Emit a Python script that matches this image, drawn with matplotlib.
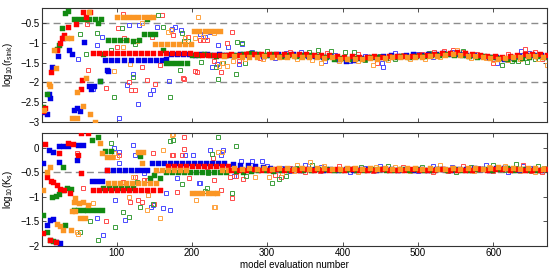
import matplotlib
matplotlib.use("Agg")
import matplotlib.pyplot as plt

# ---------------------------------------------------------------
# data
# top panel: log10(r_sink), bottom panel: log10(K_s)
# filled squares = current chain state, open squares = proposals
# ---------------------------------------------------------------

# top panel, filled, early part of the run
top_blue_x = [3, 8, 10, 12, 14, 22, 29, 37, 41, 43, 47, 52, 57, 63, 66, 70, 78, 87, 89,
              84, 93, 101, 110, 119, 128, 136, 145, 153, 160, 165,
              172, 180, 188, 196, 204, 212, 220, 228, 236, 244]
top_blue_y = [-2.75, -2.8, -2.3, -2.4, -1.62, -1.32, -0.87, -1.17, -1.27, -2.7, -2.65, -2.72,
              -0.98, -2.1, -2.16, -2.1, -1.97, -1.7, -1.72,
              -1.43, -1.43, -1.43, -1.43, -1.43, -1.43, -1.43, -1.43, -1.43, -1.43, -1.42,
              -1.28, -1.27, -1.29, -1.28, -1.30, -1.29, -1.28, -1.30, -1.29, -1.30]

top_red_x = [3, 5, 13, 21, 25, 27, 30, 35, 46, 53, 54, 55, 60, 65,
             69, 77, 85, 93, 101, 109, 117, 125, 133, 141, 149, 157, 165, 173, 181, 189, 197, 205,
             213, 221, 229, 237, 245]
top_red_y = [-2.72, -2.65, -1.74, -1.19, -1.0, -0.88, -0.8, -0.6, -0.53, -2.16, -1.95, -0.21, -0.35, -0.21,
             -1.26, -1.26, -1.26, -1.26, -1.26, -1.26, -1.26, -1.26, -1.26, -1.26, -1.26, -1.26, -1.26,
             -1.26, -1.26, -1.26, -1.26, -1.27,
             -1.30, -1.30, -1.31, -1.30, -1.30]

top_green_x = [2, 8, 21, 24, 27, 32, 36, 43, 50, 57, 64, 71, 79, 76, 78, 82, 140, 162,
               88, 96, 105, 113, 122, 130, 136, 144, 151,
               165, 172, 179, 186, 193, 200, 208, 216, 224, 232, 240, 248]
top_green_y = [-2.63, -2.3, -1.15, -1.05, -0.62, -0.23, -0.19, -0.38, -0.38, -0.38, -0.38, -0.38,
               -0.38, -0.5, -1.96, -1.28, -0.38, -1.19,
               -0.93, -0.93, -0.93, -0.93, -0.94, -0.93, -0.77, -0.77, -0.77,
               -1.5, -1.5, -1.5, -1.5, -1.5, -1.30, -1.31, -1.29, -1.30, -1.32, -1.30, -1.31]

top_orange_x = [4, 10, 12, 17, 19, 34, 40, 41, 48, 48, 56, 59, 63, 65, 72,
                101, 108, 115, 122, 129, 136, 143, 148,
                151, 159, 167, 175, 183, 191, 199,
                203, 210, 217, 224, 231, 237, 243]
top_orange_y = [-2.7, -2.05, -2.1, -1.17, -1.65, -0.87, -0.88, -2.9, -2.9, -2.25, -2.6, -1.9, -0.2,
                -2.8, -3.0,
                -0.34, -0.34, -0.34, -0.34, -0.34, -0.34, -0.34, -0.34,
                -1.03, -1.03, -1.03, -1.03, -1.03, -1.03, -1.03,
                -0.7, -0.7, -0.7, -0.7, -0.7, -0.7, -1.33]

# top panel, open squares
top_blue_open_x = [49, 69, 80, 74, 103, 114, 116, 129, 122, 145, 149, 154, 169, 173, 185, 211,
                   224, 227, 233, 242, 248, 130, 178, 217, 234, 262, 266,
                   280, 310, 345, 377, 410, 452, 454, 500, 545, 605, 637, 660,
                   300, 325, 390, 430, 470, 520, 560, 585, 625, 648]
top_blue_open_y = [-1.42, -2.16, -0.85, -1.06, -2.9, -2.08, -0.55, -2.55, -1.8, -2.3, -2.2, -0.6,
                   -1.97, -0.64, -0.66, -0.76, -0.73, -1.6, -1.53, -1.32, -1.1, -0.55, -0.6,
                   -0.85, -1.06, -1.53, -1.03,
                   -1.22, -1.38, -1.24, -1.46, -1.45, -1.5, -1.61, -1.28, -1.22, -1.5, -1.2, -1.34,
                   -1.3, -1.26, -1.3, -1.33, -1.26, -1.36, -1.28, -1.33, -1.38, -1.25]

top_red_open_x = [61, 62, 86, 102, 109, 110, 100, 119, 125, 117, 134, 140, 160, 151, 175, 189,
                  204, 195, 211, 220, 229, 246, 262, 147, 158, 188, 207, 215, 253, 238,
                  290, 330, 365, 400, 446, 480, 522, 546, 578, 600, 642, 665,
                  275, 310, 345, 380, 420, 460, 505, 535, 560, 620, 655]
top_red_open_y = [-0.53, -1.7, -2.15, -0.63, -0.27, -0.87, -1.1, -2.21, -2.21, -2.0, -1.6, -1.95,
                  -0.3, -2.04, -0.8, -1.93, -1.72, -0.85, -0.93, -0.93, -1.45, -1.0, -1.45, -0.85,
                  -1.55, -1.9, -1.75, -0.93, -0.73, -1.75,
                  -1.38, -1.22, -1.34, -1.38, -1.52, -1.3, -1.24, -1.17, -1.28, -1.52, -1.15, -1.42,
                  -1.25, -1.31, -1.35, -1.26, -1.29, -1.38, -1.27, -1.2, -1.22, -1.28, -1.24]

top_green_open_x = [52, 60, 74, 92, 96, 107, 122, 124, 155, 162, 171, 184, 189, 195, 212, 235,
                    241, 258, 266, 187, 232, 260, 270,
                    300, 340, 368, 385, 403, 430, 470, 515, 560, 612, 625, 633, 655,
                    280, 320, 355, 415, 450, 490, 540, 580, 645, 664]
top_green_open_y = [-0.78, -1.27, -0.75, -1.19, -2.38, -0.63, -1.87, -1.02, -0.3, -0.6, -2.38,
                    -1.7, -0.95, -0.95, -1.49, -1.93, -1.52, -1.79, -1.0, -0.75, -1.6, -0.98, -1.5,
                    -1.2, -1.33, -1.19, -1.2, -1.24, -1.44, -1.4, -1.26, -1.2, -1.55, -1.45, -1.46, -1.4,
                    -1.26, -1.35, -1.22, -1.22, -1.32, -1.36, -1.28, -1.33, -1.48, -1.3]

top_orange_open_x = [96, 109, 114, 127, 118, 134, 168, 172, 191, 208, 204, 215, 229, 240, 246,
                     255, 236,
                     295, 320, 372, 420, 440, 490, 530, 552, 590, 620, 650, 671,
                     270, 340, 360, 395, 460, 510, 570, 600, 635, 660]
top_orange_open_y = [-1.72, -1.1, -0.93, -0.96, -1.53, -0.5, -0.73, -0.67, -0.88, -0.33, -0.88,
                     -0.84, -0.75, -1.5, -1.58, -1.45, -1.58,
                     -1.4, -1.37, -1.52, -1.45, -1.56, -1.4, -1.35, -1.17, -1.38, -1.44, -1.3, -1.55,
                     -1.42, -1.4, -1.44, -1.47, -1.44, -1.42, -1.39, -1.43, -1.42, -1.4]

# bottom panel, filled, early part of the run
bot_blue_x = [3, 8, 10, 12, 15, 16, 19, 23, 24, 25, 29, 36, 48, 49, 56, 68, 74, 81,
              87, 95, 103, 111, 119, 127, 134, 140,
              147, 155, 163, 171, 179, 187, 195, 203, 211, 219, 227, 235, 243]
bot_blue_y = [-0.32, -1.58, -0.05, -1.48, -1.46, -0.09, -1.93, 0.03, -0.29, -1.95, 0.03, 0.03,
              -0.25, 0.05, 0.05, -0.67, -0.67, -0.67,
              -0.45, -0.45, -0.45, -0.45, -0.45, -0.45, -0.45, -0.45,
              -0.32, -0.32, -0.32, -0.32, -0.32, -0.32, -0.32, -0.32, -0.32, -0.32, -0.32, -0.32, -0.32]

bot_red_x = [3, 5, 8, 12, 13, 16, 19, 21, 23, 25, 30, 36, 38, 42, 49, 53, 53, 62, 87,
             69, 77, 85, 93, 101, 109, 117, 125, 133, 141, 149, 157,
             168, 176, 184, 192, 200, 208, 216, 224, 232, 240, 248]
bot_red_y = [-1.74, 0.08, -0.59, -1.89, -0.68, -0.71, -1.92, -0.76, -0.1, -0.84, -0.87, 0.09,
             -0.92, 0.07, -0.15, 0.3, -0.51, 0.3, -0.45,
             -0.86, -0.86, -0.86, -0.86, -0.86, -0.86, -0.86, -0.86, -0.86, -0.86, -0.86, -0.86,
             -0.37, -0.37, -0.37, -0.37, -0.37, -0.37, -0.37, -0.37, -0.37, -0.37, -0.37]

bot_green_x = [3, 8, 12, 16, 14, 19, 24, 29, 34, 40, 29, 32, 67, 75, 85, 92, 131, 145, 150, 158,
               43, 49, 55, 61, 68, 74, 80,
               82, 90, 98, 106, 114, 122,
               165, 173, 181, 189, 197, 205, 213, 221, 229, 237, 245]
bot_green_y = [-1.37, -1.72, -1.88, -1.9, -1.0, -0.98, -0.95, -0.86, -0.83, -0.85, -0.39, -1.58,
               0.15, 0.22, -0.07, -0.07, -0.17, -0.62, -0.55, -0.62,
               -1.27, -1.27, -1.27, -1.27, -1.27, -1.27, -1.27,
               -0.82, -0.82, -0.82, -0.82, -0.82, -0.82,
               -0.49, -0.49, -0.49, -0.49, -0.49, -0.49, -0.49, -0.49, -0.49, -0.49, -0.49]

bot_orange_x = [3, 7, 11, 21, 25, 29, 39, 45, 41, 45, 52, 58, 43, 50, 56, 62, 78, 80, 87, 94,
                128, 135, 134,
                89, 97, 105, 113, 121, 129, 137, 145, 153,
                152, 160, 168, 176, 184, 192, 240, 248,
                200, 207, 214, 221, 228, 233]
bot_orange_y = [-0.86, -0.5, -0.39, -1.56, -1.6, -1.68, -1.68, -1.03, -1.3, -1.3, -1.44, -1.44,
                -1.1, -1.12, -1.1, -1.17, 0.1, -0.1, -0.19, -0.19, -0.09, -0.09, -0.32,
                -0.72, -0.72, -0.72, -0.72, -0.72, -0.72, -0.72, -0.72, -0.72,
                -0.45, -0.46, -0.45, -0.45, -0.46, -0.45, -0.45, -0.46,
                -0.93, -0.93, -0.93, -0.93, -0.93, -0.93]

# bottom panel, open squares
bot_blue_open_x = [74, 82, 96, 103, 98, 103, 111, 122, 125, 120, 142, 149, 161, 166, 224, 211,
                   238, 251, 136, 146, 171, 180, 191, 202, 209, 241, 265, 280, 293, 256,
                   300, 330, 372, 410, 450, 500, 545, 590, 620, 650,
                   320, 350, 390, 430, 475, 520, 565, 605, 640, 665]
bot_blue_open_y = [-1.44, -1.78, 0.0, -0.08, -1.07, -0.32, -1.48, 0.05, -0.15, -0.72, -0.97,
                   -1.17, -1.23, -0.93, -0.05, -0.72, -0.15, -0.39, -0.52, -1.2, -1.27, -0.62,
                   -0.15, -0.15, -0.73, -0.05, -0.27, -0.27, -0.27, -0.58,
                   -0.37, -0.48, -0.4, -0.5, -0.38, -0.47, -0.4, -0.36, -0.5, -0.42,
                   -0.42, -0.35, -0.46, -0.41, -0.44, -0.38, -0.46, -0.42, -0.37, -0.44]

bot_red_open_x = [48, 56, 86, 103, 109, 118, 129, 125, 136, 140, 149, 175, 187, 189, 180, 220,
                  229, 250, 174, 190, 134, 150, 196, 228, 238, 253, 258, 268,
                  310, 318, 350, 395, 440, 480, 520, 560, 600, 640, 665,
                  330, 370, 415, 460, 500, 540, 580, 620, 650]
bot_red_open_y = [-0.11, -0.83, -1.49, -0.15, -0.7, -1.1, -1.07, -0.59, -0.66, -0.66, -0.11,
                  -0.15, -0.15, 0.22, -0.9, -0.39, -0.66, -0.6, -0.15, -0.03, -1.1, -1.14, -0.62,
                  -0.21, -0.86, -1.03, -0.57, -0.64,
                  -0.55, -0.6, -0.5, -0.38, -0.48, -0.4, -0.5, -0.38, -0.47, -0.36, -0.5,
                  -0.42, -0.47, -0.41, -0.45, -0.43, -0.48, -0.42, -0.44, -0.48]

bot_green_open_x = [52, 65, 76, 92, 98, 109, 116, 127, 175, 187, 235, 217, 222, 258, 272, 171,
                    131, 148, 227, 220, 253, 307,
                    315, 325, 360, 405, 460, 505, 550, 600, 630, 650,
                    340, 380, 425, 480, 525, 570, 615, 660]
bot_green_open_y = [-1.72, -1.5, -1.89, 0.1, -1.61, -1.31, -1.41, -0.7, 0.16, -0.74, 0.21,
                    -0.88, -0.51, 0.03, -0.57, 0.14, -1.2, -1.14, -0.12, -0.82, -0.93, -0.73,
                    -0.63, -0.58, -0.35, -0.45, -0.37, -0.4, -0.5, -0.35, -0.33, -0.45,
                    -0.41, -0.44, -0.39, -0.46, -0.43, -0.4, -0.46, -0.38]

bot_orange_open_x = [48, 49, 69, 96, 101, 117, 122, 140, 161, 158, 173, 206, 229, 175, 142,
                     231, 235, 240, 284,
                     303, 320, 340, 357, 420, 470, 530, 575, 615, 655,
                     335, 375, 400, 445, 490, 545, 595, 635, 668]
bot_orange_open_y = [-1.73, -1.76, -1.13, -0.11, -0.19, -1.01, -0.6, -1.27, -0.05, -1.44, 0.26,
                     -1.07, -1.2, 0.28, -0.97, -1.2, -0.09, -0.09, -0.6,
                     -0.6, -0.52, -0.35, -0.3, -0.5, -0.4, -0.36, -0.48, -0.38, -0.5,
                     -0.47, -0.37, -0.46, -0.4, -0.47, -0.42, -0.39, -0.47, -0.41]

# converged part of the run (evaluations 250..670, one value every 10 per chain)
conv_x = list(range(250, 671, 10))

top_red_conv = [-1.29, -1.30, -1.29, -1.28, -1.29, -1.27, -1.28, -1.27, -1.28, -1.27, -1.28,
                -1.30, -1.31, -1.30, -1.33, -1.35, -1.33, -1.36, -1.35, -1.34, -1.36, -1.34,
                -1.33, -1.33, -1.32, -1.31, -1.30, -1.29, -1.26, -1.25, -1.24, -1.26, -1.28,
                -1.30, -1.32, -1.34, -1.35, -1.33, -1.30, -1.29, -1.28, -1.29, -1.31]
top_orange_conv = [-1.34, -1.35, -1.36, -1.35, -1.34, -1.35, -1.36, -1.35, -1.34, -1.36, -1.35,
                   -1.37, -1.38, -1.37, -1.41, -1.40, -1.42, -1.40, -1.39, -1.41, -1.38, -1.37,
                   -1.36, -1.37, -1.35, -1.35, -1.34, -1.32, -1.30, -1.29, -1.30, -1.32, -1.34,
                   -1.36, -1.38, -1.40, -1.39, -1.37, -1.35, -1.33, -1.34, -1.36, -1.45]
top_blue_conv = [-1.30, -1.28, -1.31, -1.29, -1.33, -1.30, -1.29, -1.31, -1.28, -1.30, -1.32,
                 -1.33, -1.36, -1.34, -1.42, -1.45, -1.43, -1.38, -1.35, -1.37, -1.33, -1.30,
                 -1.32, -1.30, -1.29, -1.31, -1.28, -1.27, -1.25, -1.29, -1.28, -1.30, -1.31,
                 -1.33, -1.36, -1.37, -1.40, -1.36, -1.32, -1.30, -1.31, -1.30, -1.32]
top_green_conv = [-1.31, -1.27, -1.26, -1.28, -1.30, -1.29, -1.32, -1.30, -1.33, -1.31, -1.30,
                  -1.34, -1.37, -1.40, -1.38, -1.41, -1.39, -1.40, -1.37, -1.36, -1.38, -1.35,
                  -1.34, -1.36, -1.34, -1.33, -1.31, -1.30, -1.28, -1.31, -1.30, -1.33, -1.35,
                  -1.34, -1.37, -1.39, -1.41, -1.40, -1.38, -1.35, -1.33, -1.36, -1.34]

bot_red_conv = [-0.45, -0.46, -0.45, -0.44, -0.46, -0.45, -0.44, -0.45, -0.46, -0.45, -0.44,
                -0.45, -0.46, -0.45, -0.44, -0.45, -0.44, -0.45, -0.46, -0.45, -0.44, -0.45,
                -0.46, -0.45, -0.44, -0.45, -0.46, -0.45, -0.44, -0.45, -0.45, -0.46, -0.45,
                -0.44, -0.45, -0.43, -0.44, -0.45, -0.44, -0.45, -0.46, -0.45, -0.44]
bot_orange_conv = [-0.42, -0.43, -0.41, -0.43, -0.42, -0.44, -0.42, -0.41, -0.43, -0.42, -0.43,
                   -0.41, -0.42, -0.44, -0.43, -0.42, -0.41, -0.43, -0.42, -0.43, -0.42, -0.44,
                   -0.43, -0.42, -0.41, -0.43, -0.42, -0.44, -0.43, -0.42, -0.43, -0.41, -0.42,
                   -0.43, -0.42, -0.40, -0.41, -0.42, -0.43, -0.42, -0.41, -0.43, -0.42]
bot_blue_conv = [-0.33, -0.35, -0.36, -0.38, -0.40, -0.42, -0.43, -0.44, -0.43, -0.45, -0.44,
                 -0.43, -0.45, -0.44, -0.46, -0.44, -0.45, -0.43, -0.44, -0.45, -0.44, -0.43,
                 -0.45, -0.44, -0.46, -0.44, -0.45, -0.43, -0.44, -0.45, -0.44, -0.43, -0.42,
                 -0.44, -0.45, -0.41, -0.42, -0.44, -0.45, -0.43, -0.44, -0.45, -0.44]
bot_green_conv = [-0.48, -0.49, -0.47, -0.46, -0.45, -0.47, -0.45, -0.46, -0.44, -0.45, -0.46,
                  -0.44, -0.43, -0.45, -0.46, -0.44, -0.45, -0.46, -0.44, -0.43, -0.45, -0.46,
                  -0.44, -0.45, -0.43, -0.45, -0.46, -0.44, -0.45, -0.44, -0.46, -0.45, -0.43,
                  -0.44, -0.46, -0.44, -0.42, -0.45, -0.44, -0.46, -0.45, -0.44, -0.45]

top_dashes = [-0.5, -2.0]
bot_dashes = [-0.5]
top_ticks = [-3, -2.5, -2, -1.5, -1, -0.5]
bot_ticks = [-2, -1.5, -1, -0.5, 0]
x_ticks = [100, 200, 300, 400, 500, 600]

# ---------------------------------------------------------------
plt.rcParams['font.family'] = ['Liberation Sans', 'DejaVu Sans']
plt.rcParams['mathtext.default'] = 'regular'

colors = {
    'blue': ('#0000e6', '#4a4aff'),
    'red': ('#ff0000', '#ff4a4a'),
    'green': ('#118a11', '#3c9e3c'),
    'orange': ('#fb9624', '#ffa442'),
}

fig = plt.figure(figsize=(5.54, 2.72), dpi=100)
ax1 = fig.add_axes([0.0758, 0.5533, 0.911, 0.4173])
ax2 = fig.add_axes([0.0758, 0.0967, 0.911, 0.4143])


def draw(ax, dashes, opens, fills, convs):
    for d in dashes:
        ax.axhline(d, color='#8c8c8c', lw=1.0, dashes=(5, 3), zorder=1)
    for name, (xs, ys) in opens:
        ax.plot(xs, ys, 's', ms=3.3, mfc='none', mec=colors[name][1], mew=0.7,
                linestyle='none', zorder=2)
    for name, (xs, ys) in fills:
        ax.plot(xs, ys, 's', ms=3.6, mfc=colors[name][0], mec=colors[name][0], mew=0.3,
                linestyle='none', zorder=3)
    for name, shift, ys in convs:
        xs = [x + shift for x in conv_x[:len(ys)]]
        ax.plot(xs, ys, 's', ms=3.6, mfc=colors[name][0], mec=colors[name][0], mew=0.3,
                linestyle='none', zorder=3)


draw(ax1, top_dashes,
     [('blue', (top_blue_open_x, top_blue_open_y)), ('red', (top_red_open_x, top_red_open_y)),
      ('green', (top_green_open_x, top_green_open_y)),
      ('orange', (top_orange_open_x, top_orange_open_y))],
     [('blue', (top_blue_x, top_blue_y)), ('green', (top_green_x, top_green_y)),
      ('red', (top_red_x, top_red_y)), ('orange', (top_orange_x, top_orange_y))],
     [('blue', 4, top_blue_conv), ('green', 8, top_green_conv),
      ('red', 2, top_red_conv), ('orange', 6, top_orange_conv)])

draw(ax2, bot_dashes,
     [('blue', (bot_blue_open_x, bot_blue_open_y)), ('red', (bot_red_open_x, bot_red_open_y)),
      ('green', (bot_green_open_x, bot_green_open_y)),
      ('orange', (bot_orange_open_x, bot_orange_open_y))],
     [('blue', (bot_blue_x, bot_blue_y)), ('green', (bot_green_x, bot_green_y)),
      ('red', (bot_red_x, bot_red_y)), ('orange', (bot_orange_x, bot_orange_y))],
     [('blue', 4, bot_blue_conv), ('green', 8, bot_green_conv),
      ('red', 2, bot_red_conv), ('orange', 6, bot_orange_conv)])

for ax in (ax1, ax2):
    ax.set_xlim(1, 671)
    ax.set_xticks(x_ticks)
    ax.tick_params(direction='in', top=True, right=True, length=3, width=0.6,
                   labelsize=7, pad=2, color='#333333')
    for s in ax.spines.values():
        s.set_linewidth(0.8)
        s.set_color('#333333')

ax1.set_ylim(-3, -0.11)
ax1.set_yticks(top_ticks)
ax1.set_yticklabels(['\u22123', '\u22122.5', '\u22122', '\u22121.5', '\u22121', '\u22120.5'])
ax1.set_xticklabels([])
ax1.set_ylabel('log$_{10}$(r$_{sink}$)', fontsize=7, labelpad=4)

ax2.set_ylim(-2, 0.3)
ax2.set_yticks(bot_ticks)
ax2.set_yticklabels(['\u22122', '\u22121.5', '\u22121', '\u22120.5', '0'])
ax2.set_xticklabels([str(t) for t in x_ticks])
ax2.set_ylabel('log$_{10}$(K$_s$)', fontsize=7, labelpad=4)
ax2.set_xlabel('model evaluation number', fontsize=7, labelpad=1)

fig.savefig('out.png', dpi=100)
